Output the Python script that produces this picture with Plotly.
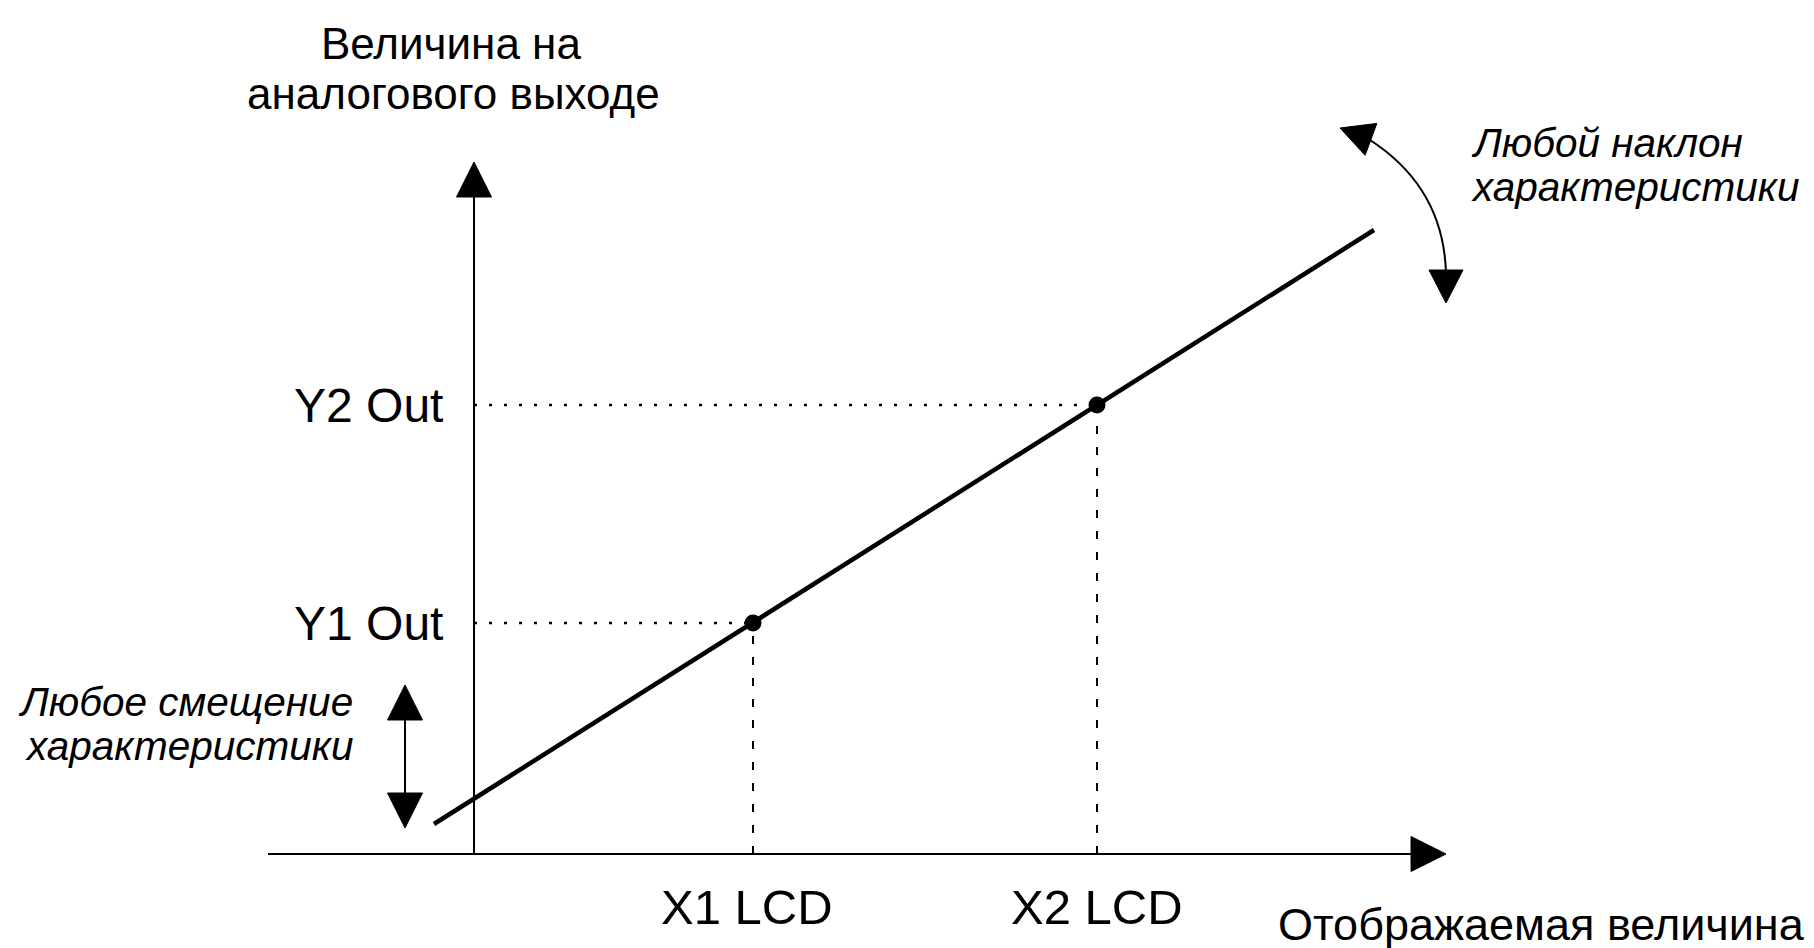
import plotly.graph_objects as go
import math

# ---- data (diagram units) ----
POINT_X = [2.79, 6.23]          # X1 LCD, X2 LCD
POINT_Y = [2.31, 4.49]          # Y1 Out, Y2 Out
X_LABELS = ["X1 LCD", "X2 LCD"]
Y_LABELS = ["Y1 Out", "Y2 Out"]
LINE_X = [-0.40, 9.00]
LINE_Y = [0.30, 6.24]

FONT = "Liberation Sans, Arial, sans-serif"
BLACK = "#000000"

fig = go.Figure()

# characteristic line
fig.add_trace(go.Scatter(x=LINE_X, y=LINE_Y, mode="lines",
                         line=dict(color=BLACK, width=4.5), hoverinfo="skip"))

# dotted guides
for px, py in zip(POINT_X, POINT_Y):
    fig.add_trace(go.Scatter(x=[0, px], y=[py, py], mode="lines",
                             line=dict(color=BLACK, width=2.5, dash="3px,12px"), hoverinfo="skip"))
    fig.add_trace(go.Scatter(x=[px, px], y=[0, py], mode="lines",
                             line=dict(color=BLACK, width=2, dash="8px,13px"), hoverinfo="skip"))

# points
fig.add_trace(go.Scatter(x=POINT_X, y=POINT_Y, mode="markers",
                         marker=dict(color=BLACK, size=17), hoverinfo="skip"))

shapes = []


def line_shape(x0, y0, x1, y1, w=2):
    return dict(type="line", xref="x", yref="y", x0=x0, y0=y0, x1=x1, y1=y1,
                line=dict(color=BLACK, width=w))


def arrowhead(tip, direction, length=0.35, half=0.175):
    dx, dy = direction
    n = math.hypot(dx, dy)
    ux, uy = dx / n, dy / n
    bx, by = tip[0] - ux * length, tip[1] - uy * length
    px, py = -uy * half, ux * half
    path = (f"M {tip[0]},{tip[1]} L {bx + px},{by + py} "
            f"L {bx - px},{by - py} Z")
    return dict(type="path", xref="x", yref="y", path=path,
                fillcolor=BLACK, line=dict(color=BLACK, width=1))


# axes
shapes.append(line_shape(-2.06, 0, 9.45, 0))
shapes.append(arrowhead((9.72, 0), (1, 0)))
shapes.append(line_shape(0, 0, 0, 6.65))
shapes.append(arrowhead((0, 6.92), (0, 1)))

# offset double arrow
shapes.append(line_shape(-0.69, 0.55, -0.69, 1.40))
shapes.append(arrowhead((-0.69, 1.69), (0, 1)))
shapes.append(arrowhead((-0.69, 0.26), (0, -1)))

# slope curved arrow
shapes.append(dict(type="path", xref="x", yref="y",
                   path="M 8.96,7.14 Q 9.70,6.66 9.72,5.80",
                   line=dict(color=BLACK, width=2)))
shapes.append(arrowhead((8.66, 7.26), (-0.30, 0.11), length=0.33, half=0.17))
shapes.append(arrowhead((9.72, 5.51), (0, -1), length=0.33, half=0.17))

annotations = []


def text(x, y, s, size, xanchor="center", italic=False):
    annotations.append(dict(x=x, y=y, xref="x", yref="y", text=s, showarrow=False,
                            xanchor=xanchor, yanchor="middle",
                            font=dict(family=FONT, size=size, color=BLACK,
                                      style="italic" if italic else "normal")))


text(-0.29, POINT_Y[0], Y_LABELS[0], 48, xanchor="right")
text(-0.29, POINT_Y[1], Y_LABELS[1], 48, xanchor="right")
text(POINT_X[0] - 0.06, -0.53, X_LABELS[0], 49)
text(POINT_X[1], -0.53, X_LABELS[1], 49)

text(-0.23, 8.11, "Величина на", 44)
text(-0.21, 7.61, "аналогового выходе", 44)
text(8.02, -0.70, "Отображаемая величина", 45, xanchor="left")

text(9.95, 7.11, "Любой наклон", 40.5, xanchor="left", italic=True)
text(9.95, 6.67, "характеристики", 40.5, xanchor="left", italic=True)
text(-1.19, 1.52, "Любое смещение", 40.5, xanchor="right", italic=True)
text(-1.19, 1.08, "характеристики", 40.5, xanchor="right", italic=True)

# the page body adds an 8 px offset; ranges compensate so 1 unit = 100 px
fig.update_layout(
    width=1814, height=948,
    margin=dict(l=0, r=0, t=0, b=0),
    paper_bgcolor="white", plot_bgcolor="white",
    showlegend=False,
    xaxis=dict(range=[-4.66, 13.48], visible=False, fixedrange=True),
    yaxis=dict(range=[-1.02, 8.46], visible=False, fixedrange=True),
    shapes=shapes, annotations=annotations,
)

fig.write_html("out.html", config={"displayModeBar": False})
